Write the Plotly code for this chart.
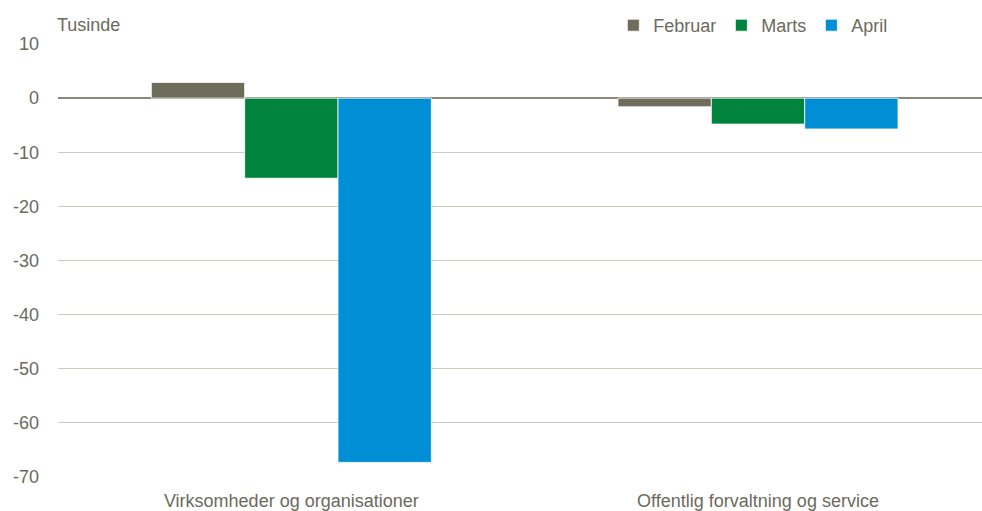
import plotly.graph_objects as go

categories = ["Virksomheder og organisationer", "Offentlig forvaltning og service"]
series_names = ["Februar", "Marts", "April"]
februar = [2.9, -1.6]
marts = [-14.8, -4.8]
april = [-67.3, -5.7]
colors = ["#6e6c5a", "#00843d", "#008fd5"]
y_ticks = [10, 0, -10, -20, -30, -40, -50, -60, -70]

text_color = "#6b6a5c"
font_family = "Liberation Sans, Arial, sans-serif"

fig = go.Figure()
for name, vals, col in zip(series_names, [februar, marts, april], colors):
    fig.add_trace(go.Bar(
        x=categories, y=vals, name=name,
        marker=dict(color=col, line=dict(color="white", width=0.8)),
    ))

fig.update_layout(
    width=982, height=511,
    margin=dict(l=58, r=0, t=44, b=34),
    paper_bgcolor="white", plot_bgcolor="white",
    barmode="group", bargap=0.40, bargroupgap=0.0,
    font=dict(family=font_family, size=18, color=text_color),
    showlegend=True,
    legend=dict(
        orientation="h", x=0.601, y=1.0, xanchor="left", yanchor="bottom",
        font=dict(size=18, color=text_color),
        itemwidth=30, traceorder="normal",
        bgcolor="rgba(0,0,0,0)",
    ),
    xaxis=dict(
        type="category", range=[-0.5, 1.48],
        showgrid=False, showline=False, ticks="",
        tickfont=dict(size=18, color=text_color),
        ticklabelstandoff=11,
    ),
    yaxis=dict(
        range=[-70, 10], tickvals=y_ticks, ticktext=[str(v) for v in y_ticks],
        showgrid=True, gridcolor="#cbcbbf", gridwidth=1,
        zeroline=True, zerolinecolor="#8a887c", zerolinewidth=2,
        showline=False, ticks="",
        tickfont=dict(size=18, color=text_color),
        ticklabelstandoff=18,
    ),
    annotations=[dict(
        text="Tusinde", xref="paper", yref="paper", x=0, y=1.0,
        xanchor="left", yanchor="bottom", xshift=-3, yshift=7, showarrow=False,
        font=dict(size=18, color=text_color),
    )],
)

fig.write_html(
    "out.html",
    config={"displayModeBar": False},
    post_script="document.body.style.margin='0';document.body.style.overflow='hidden';",
)
